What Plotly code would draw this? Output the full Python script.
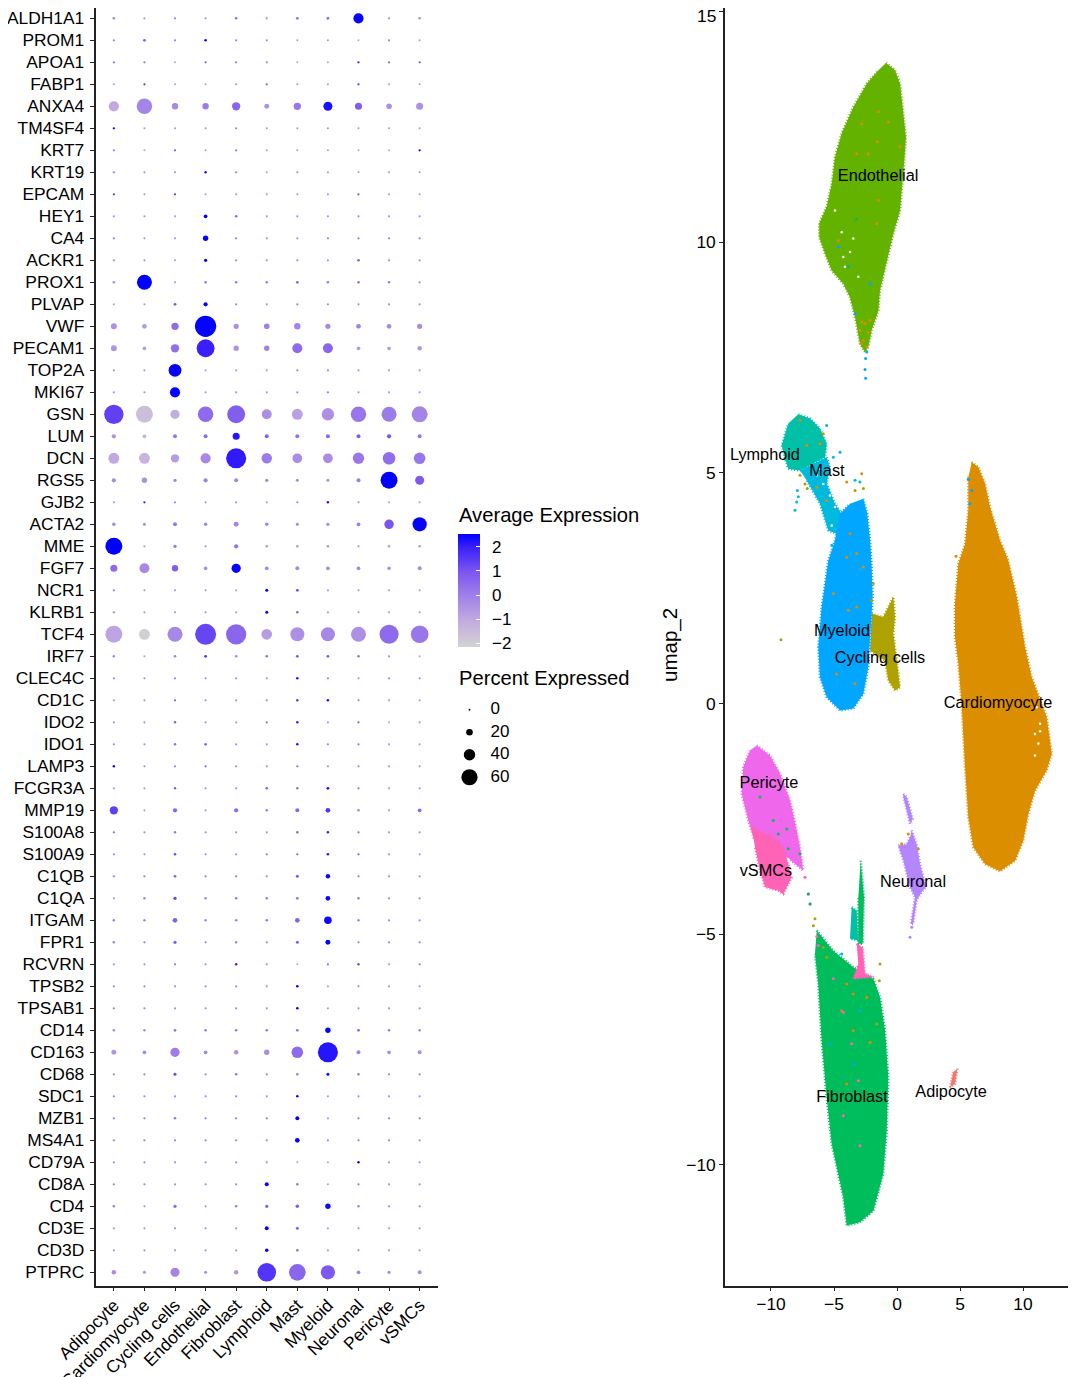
import numpy as np
import plotly.graph_objects as go

W = 1080
H = 1377
BODY_MARGIN = 8  # the page's default body margin shifts the figure

clusters = ['Adipocyte', 'Cardiomyocyte', 'Cycling cells', 'Endothelial', 'Fibroblast', 'Lymphoid',
            'Mast', 'Myeloid', 'Neuronal', 'Pericyte', 'vSMCs']
genes = ['ALDH1A1', 'PROM1', 'APOA1', 'FABP1', 'ANXA4', 'TM4SF4', 'KRT7', 'KRT19', 'EPCAM', 'HEY1',
         'CA4', 'ACKR1', 'PROX1', 'PLVAP', 'VWF', 'PECAM1', 'TOP2A', 'MKI67', 'GSN', 'LUM',
         'DCN', 'RGS5', 'GJB2', 'ACTA2', 'MME', 'FGF7', 'NCR1', 'KLRB1', 'TCF4', 'IRF7',
         'CLEC4C', 'CD1C', 'IDO2', 'IDO1', 'LAMP3', 'FCGR3A', 'MMP19', 'S100A8', 'S100A9', 'C1QB',
         'C1QA', 'ITGAM', 'FPR1', 'RCVRN', 'TPSB2', 'TPSAB1', 'CD14', 'CD163', 'CD68', 'SDC1',
         'MZB1', 'MS4A1', 'CD79A', 'CD8A', 'CD4', 'CD3E', 'CD3D', 'PTPRC']

# percent expressed, one row per gene
pct = [
    [3, 2, 2, 2, 3, 2, 4, 4, 35, 2, 3],
    [2, 4, 2, 3, 2, 2, 1, 1, 1, 2, 1],
    [2, 2, 1, 2, 2, 2, 1, 1, 2, 2, 2],
    [1, 2, 1, 1, 1, 2, 1, 1, 2, 1, 1],
    [35, 57, 19, 19, 27, 13, 23, 30, 22, 16, 22],
    [2, 1, 1, 1, 1.5, 1, 1, 1, 1, 1, 1],
    [2, 1, 2, 1, 2, 1, 1, 1, 1, 1, 2],
    [2, 1.5, 1, 2.5, 2, 1, 1.5, 1, 1, 1, 1],
    [2, 1, 2, 1, 1, 1, 1, 1, 2, 1, 1],
    [2, 1.5, 1.5, 8, 3, 1.5, 1.5, 1.5, 1.5, 1.5, 1.5],
    [2, 1.5, 1.5, 15, 2, 1.5, 1.5, 2, 2, 2, 2],
    [1.5, 1.5, 1, 6, 2, 1.5, 1.5, 1.5, 3, 1.5, 1.5],
    [3, 55, 1.5, 3, 3, 3, 4, 3, 3, 3, 2],
    [1.5, 1.5, 4, 10, 2, 1.5, 2, 1.5, 1.5, 1.5, 1.5],
    [17, 12, 23, 81, 14, 16, 19, 14, 12, 12, 14],
    [17, 8, 27, 67, 15, 15, 34, 34, 8, 8, 11],
    [2, 1.5, 46, 1.5, 1.5, 1.5, 2, 2, 1.5, 1.5, 1.5],
    [2, 1.5, 35, 1.5, 2, 1.5, 2, 2, 1.5, 1.5, 1.5],
    [73, 63, 31, 57, 67, 34, 38, 44, 57, 55, 59],
    [10, 8, 9, 9, 22, 9, 9, 9, 9, 10, 9],
    [38, 38, 27, 35, 76, 36, 33, 33, 40, 45, 41],
    [10, 15, 6, 10, 9, 6, 5, 5, 9, 63, 30],
    [1.5, 2, 2, 1.5, 2, 1.5, 2, 2.5, 1.5, 1.5, 1.5],
    [7, 5, 9, 7, 13, 7, 5, 6, 8, 32, 52],
    [63, 2, 6, 2, 10, 3, 3, 3, 2, 3, 3],
    [22, 34, 19, 8, 31, 8, 9, 8, 8, 7, 9],
    [2, 1.5, 1.5, 1.5, 1.5, 5, 4, 1.5, 1.5, 1.5, 1.5],
    [2, 1.5, 1.5, 1.5, 1.5, 5, 3, 1.5, 1.5, 1.5, 1.5],
    [63, 38, 55, 80, 77, 37, 51, 51, 55, 72, 66],
    [3, 1.5, 3, 4, 3, 3, 4, 4, 3, 2, 1.5],
    [2, 1.5, 2, 1.5, 1.5, 1.5, 3, 2, 1.5, 1.5, 1.5],
    [1.5, 1.5, 2, 1.5, 1.5, 1.5, 3, 3, 1.5, 1.5, 1.5],
    [1.5, 1.5, 2.5, 1.5, 1.5, 2, 3, 1.5, 2, 1, 1.5],
    [2, 1.5, 2.5, 3, 1.5, 1.5, 3, 2, 2, 1.5, 1.5],
    [2.5, 1.5, 2, 2, 1.5, 1.5, 2, 1.5, 1.5, 1.5, 1.5],
    [1.5, 1.5, 2.5, 1.5, 1.5, 3, 2.5, 4, 2, 1.5, 1.5],
    [27, 1.5, 10, 1.5, 10, 3, 9, 12, 3, 1.5, 8],
    [2, 1.5, 2.5, 1.5, 1.5, 1.5, 3, 3, 2, 1.5, 1.5],
    [1.5, 1.5, 3, 1.5, 1.5, 1.5, 2, 3, 2, 1.5, 1.5],
    [2, 2, 4, 2, 2, 1.5, 5, 11, 2, 1.5, 1.5],
    [1.5, 2.5, 6, 2.5, 3, 3, 4, 12, 2.5, 2, 2],
    [3, 2.5, 12, 2.5, 3, 3, 12, 24, 2.5, 2, 2],
    [3, 2, 6, 2, 2.5, 2, 5, 13, 2, 2, 2],
    [1.5, 1.5, 2, 1.5, 3, 1.5, 1, 2, 2.5, 1.5, 2],
    [2, 1.5, 1.5, 1.5, 1.5, 1.5, 3.5, 1.5, 1.5, 1.5, 1.5],
    [2, 1.5, 1.5, 1.5, 1.5, 1.5, 3.5, 1.5, 1.5, 1.5, 1.5],
    [3, 2.5, 4, 3, 3, 3, 4, 15, 4, 3, 2.5],
    [13, 8, 31, 8, 11, 15, 41, 76, 9, 8, 9],
    [2, 2, 5, 2, 3, 2, 3, 5, 2.5, 2, 2],
    [2, 1.5, 2, 1.5, 2, 1.5, 3, 1.5, 1.5, 1.5, 1.5],
    [2, 2, 3, 2, 2, 2, 9, 1.5, 2, 2, 2],
    [2, 2, 2, 2, 2, 1.5, 12, 2, 2, 1.5, 1.5],
    [1.5, 1.5, 1.5, 1.5, 1.5, 1.5, 1, 1, 2.5, 1.5, 1.5],
    [2, 1.5, 1.5, 1.5, 1.5, 9, 3, 1, 2, 1.5, 1.5],
    [3, 1.5, 6, 1.5, 3, 6, 7, 15, 2.5, 2, 2],
    [1.5, 1.5, 1.5, 1.5, 1.5, 9, 5, 1.5, 1.5, 1.5, 1.5],
    [1.5, 1.5, 1.5, 1.5, 1.5, 7, 3, 1.5, 1.5, 1.5, 1.5],
    [11, 5, 30, 5, 11, 70, 62, 52, 8, 6, 9],
]

# average expression, one row per gene
expr = [
    [0, -.5, 0, -.5, .5, -.3, .4, .6, 2.5, -.3, -.3],
    [0, .8, 0, 2.5, 0, -.3, -.5, -.5, -1, 0, -.5],
    [.3, .3, -.8, .6, 0, -.2, -.8, -.8, 2, .6, 1],
    [-.5, 1.5, -.7, -.7, -.3, .7, -.5, -.5, 1.5, -.5, -.5],
    [-1, -.1, -.2, .1, .6, -.4, .2, 2.3, .8, -.4, -.4],
    [2.5, -.5, -.3, -.3, 0, -.4, -.4, -.4, -.4, -.4, -.4],
    [0, -.8, .8, -.4, .3, -.5, -.5, -.7, -.8, -.8, 2.5],
    [0, -.3, -.2, 2.4, 0, -.5, -.3, -.4, -.5, -.4, -.4],
    [1.5, -.5, 1.4, -.4, -.3, -.4, -.3, -.3, 1, -.4, -.4],
    [-.5, -.5, -.6, 2.5, .6, -.4, -.2, -.4, 0, -.3, -.3],
    [0, -.4, -.4, 2.5, 0, -.2, -.2, 0, .3, 0, 0],
    [-.2, -.3, -.5, 2.5, -.2, -.2, -.2, -.2, 1, -.2, -.2],
    [-.2, 2.55, -.5, .2, .2, .2, .6, .2, .4, .2, -.2],
    [-.6, -.6, 1, 2.5, -.1, -.3, 0, -.2, -.2, -.1, -.3],
    [-.4, -.6, .5, 2.5, -.3, 0, -.1, -.2, 0, -.2, -.3],
    [-.5, -.7, .4, 2.0, -.4, 0, .5, .6, -.6, -.6, -.5],
    [-.5, -.5, 2.5, -.7, -.5, -.5, -.1, 0, -.4, -.4, -.4],
    [-.5, -.5, 2.5, -.7, -.5, -.5, -.1, 0, -.4, -.4, -.4],
    [1.4, -1.6, -1.1, .5, .8, -.4, -.8, -.4, .2, .1, -.1],
    [-.4, -1.2, .2, .5, 2.2, .8, .3, .6, .8, 1.0, .3],
    [-1, -1.3, -.7, -.2, 2.1, .1, -.3, -.3, .2, .4, .2],
    [-.2, -.4, -.1, 0, -.1, 0, -.3, -.3, .1, 2.55, .9],
    [-.5, 2, -.2, -.4, -.4, -.5, -.2, 2.3, -.4, -.8, -.8],
    [-.2, -.2, .2, -.1, -.1, -.1, -.2, -.2, .1, 1.0, 2.5],
    [2.55, -.7, .2, -.5, .3, -.5, -.5, -.5, -.5, -.5, -.5],
    [.5, -.2, .8, -.4, 2.5, -.1, -.2, -.2, -.2, -.3, -.2],
    [0, -.5, -.5, -.5, -.5, 2.5, 1.2, -.5, -.5, -.6, -.6],
    [0, -.5, -.5, -.5, -.5, 2.5, .8, -.5, -.5, -.6, -.6],
    [-.9, -2, -.2, 1.3, .6, -.7, -.4, -.2, -.4, .5, .2],
    [-.1, -.8, 0, 1.6, -.1, .5, 1, 1, .3, -.2, -.8],
    [-.2, -.3, 0, -.3, -.2, -.3, 2.3, 0, -.3, -.1, -.3],
    [-.4, -.4, .7, -.3, -.3, -.2, 1.5, 2.3, -.1, -.4, -.5],
    [-.3, -.4, .8, -.4, -.4, .5, 2, -.3, .8, -.7, -.4],
    [-.2, -.4, .5, 1, -.2, -.5, 2.3, -.2, .2, -.4, -.5],
    [2.4, -.3, 0, .5, -.2, -.2, .5, -.4, 0, -.4, -.4],
    [-.5, -.5, .9, -.3, -.3, 1, .6, 2.3, .3, -.4, -.4],
    [1.4, -.6, .7, -.5, .5, .2, .6, 1.6, 0, -.3, .6],
    [.4, -.3, .3, -.3, -.2, -.2, .6, 2, .5, -.3, -.3],
    [-.2, -.4, 1.3, -.3, -.2, .2, .7, 2.2, .8, -.3, -.4],
    [0, 0, .7, .1, .1, -.2, .9, 2.5, .1, -.2, -.2],
    [-.5, 0, 1.3, 0, .2, .1, .3, 2.5, .3, -.1, -.1],
    [.1, 0, .8, -.1, 0, .3, .7, 2.4, 0, -.1, -.1],
    [0, 0, .8, -.1, 0, -.1, .8, 2.5, 0, -.1, -.1],
    [-.3, -.3, .2, -.3, 2, -.2, -.8, .5, 1.2, -.3, 0],
    [0, -.1, -.2, -.2, -.1, -.2, 2.5, -.6, -.2, -.2, -.2],
    [0, -.1, -.2, -.2, -.1, -.2, 2.5, -.6, -.2, -.2, -.2],
    [-.1, -.1, .3, .2, .3, .3, .3, 2.5, .7, .3, .1],
    [-.5, -.2, .1, -.2, -.4, -.3, .5, 2.2, -.1, -.3, -.3],
    [-.1, -.1, 1.3, -.1, .4, 0, .2, 2.4, .3, 0, 0],
    [0, -.1, -.1, -.2, 0, -.2, 2.5, -.6, -.1, -.2, -.2],
    [0, 0, .3, .1, 0, .1, 2.55, -.5, .1, .1, .1],
    [0, 0, 0, 0, 0, -.1, 2.55, -.1, 0, -.1, -.1],
    [-.1, -.1, -.2, -.2, -.1, -.2, -.7, -.7, 2.5, -.2, -.2],
    [0, -.1, -.2, -.2, -.1, 2.5, .3, -.6, .2, -.2, -.2],
    [.1, -.4, .6, -.4, .1, .8, .8, 2.4, .1, -.2, -.2],
    [-.3, -.3, -.3, -.3, -.3, 2.5, .7, -.5, -.2, -.3, -.3],
    [-.3, -.3, -.3, -.3, -.3, 2.5, .5, -.5, -.2, -.3, -.3],
    [-.3, -.4, -.1, -.3, -.5, 1.6, .6, .9, -.1, -.3, -.3],
]

legend_pct = [0, 20, 40, 60]
colorbar_ticks = [-2, -1, 0, 1, 2]
umap_y_ticks = [-10, -5, 0, 5, 10, 15]
# the 15 label would be cut by the top of the figure, it gets an annotation instead
umap_y_labels = ['\u221210', '\u22125', '0', '5', '10', '']

# umap cluster outlines
endothelial_x = [-.87, -.16, .24, .45, .71, .56, .37, .24, -.29, -.77, -1.35, -1.48, -2.01, -2.28, -2.54, -2.94, -3.33,
                 -3.73, -4.26, -5.18, -5.71, -6.17, -6.17, -5.58, -5.18, -4.92, -4.39, -3.47, -2.40, -1.48]
endothelial_y = [13.89, 13.73, 13.44, 12.93, 12.28, 11.71, 11.13, 10.69, 10.19, 9.61, 8.96, 8.52, 8.09, 7.73, 7.62, 7.80,
                 8.38, 8.81, 9.10, 9.39, 9.75, 10.11, 10.41, 10.77, 11.27, 11.85, 12.36, 12.93, 13.44, 13.73]
cardio_x = [5.93, 6.45, 6.98, 7.38, 8.17, 8.83, 9.50, 10.16, 10.69, 11.35, 11.88, 12.28, 11.88, 10.95, 10.42, 10.02, 9.37,
            8.17, 6.98, 6.06, 5.66, 5.40, 5.13, 4.87, 4.60, 4.60, 4.87, 5.40, 5.66, 5.66]
cardio_y = [5.23, 5.13, 4.77, 4.26, 3.54, 3.10, 2.31, 1.22, .57, .07, -.30, -1.09, -1.45, -1.89, -2.39, -2.97, -3.41,
            -3.64, -3.48, -3.12, -2.47, -1.38, -.01, .86, 1.44, 2.16, 3.03, 3.46, 4.19, 4.91]
myeloid_x = [-2.67, -2.36, -2.14, -2.01, -1.93, -2.14, -2.28, -2.67, -3.47, -4.52, -5.58, -6.11, -6.25, -5.98, -5.45,
             -4.92, -4.52, -3.73]
myeloid_y = [4.44, 4.11, 3.54, 2.96, 2.31, 1.51, .79, .21, -.11, -.15, .14, .57, 1.22, 2.09, 3.10, 3.54, 4.11, 4.33]
lymphoid_x = [-7.83, -6.90, -6.11, -5.58, -5.71, -6.64, -7.70, -8.63, -8.89, -9.15, -8.63]
lymphoid_y = [6.27, 6.18, 5.96, 5.63, 5.34, 5.20, 5.05, 5.09, 5.31, 5.60, 6.07]
mast_x = [-7.70, -5.58, -5.32, -5.58, -4.92, -4.39, -4.79, -5.45, -6.11, -7.17]
mast_y = [5.05, 5.34, 5.13, 4.77, 4.33, 4.11, 3.68, 3.75, 4.33, 4.84]
cycling_x = [-2.01, -1.09, -.69, -.29, -.16, -.29, -.02, .24, -.16, -.69, -.95, -2.14]
cycling_y = [1.95, 1.87, 2.09, 2.31, 1.87, 1.51, .93, .35, .28, .50, .93, 1.15]
pericyte_x = [-11.13, -10.08, -9.29, -8.49, -7.96, -7.70, -7.44, -8.75, -10.08, -11.40, -11.80, -12.33, -12.20, -11.67]
pericyte_y = [-.91, -1.13, -1.52, -2.10, -2.75, -3.12, -3.62, -3.33, -2.97, -2.90, -2.54, -1.96, -1.38, -1.02]
vsmc_x = [-11.53, -9.42, -8.89, -8.36, -9.02, -9.42, -10.48, -10.87, -11.27]
vsmc_y = [-2.68, -2.97, -3.22, -3.77, -4.13, -4.06, -3.98, -3.62, -3.12]
fibro_x = [-6.37, -5.06, -3.47, -1.88, -1.35, -.95, -.69, -.82, -1.09, -1.88, -2.94, -3.99, -4.26, -5.18, -5.58, -5.98,
           -6.25, -6.51]
fibro_y = [-4.92, -5.36, -5.72, -5.97, -6.37, -7.09, -8.11, -9.26, -10.20, -11.00, -11.25, -11.32, -10.71, -9.55, -8.54,
           -7.31, -6.08, -5.43]
fibro_spike_x = [-2.88, -2.62, -2.72, -3.07, -3.07]
fibro_spike_y = [-3.41, -4.20, -5.21, -5.21, -4.20]
spike_teal_x = [-3.60, -3.20, -3.07, -3.73]
spike_teal_y = [-4.42, -4.49, -5.14, -5.10]
spike_pink_x = [-3.20, -2.72, -2.54, -1.88, -3.47, -3.07]
spike_pink_y = [-5.21, -5.29, -5.86, -5.93, -5.97, -5.65]
neuronal_top_x = [.50, .77, 1.25, 1.03, .71, .50]
neuronal_top_y = [-1.96, -2.03, -2.50, -2.61, -2.25, -2.03]
neuronal_x = [1.17, 1.56, 1.83, 2.30, 1.96, 1.56, 1.29, 1.09, 1.43, 1.03, .50, .10, .77, 1.03]
neuronal_y = [-2.75, -3.05, -3.48, -3.98, -4.09, -4.27, -4.78, -4.78, -4.20, -3.98, -3.40, -3.08, -3.05, -2.90]
adipocyte_x = [4.79, 4.60, 4.21, 4.47]
adipocyte_y = [-7.92, -8.25, -8.32, -7.99]

# stray cells lying away from their own cluster
orange_x = [-1.48, -2.80, -.69, -1.56, -3.20, -2.28, .24, -1.48, -4.66, -1.61, -2.80, -2.54, -2.94, -2.67, -2.80, -2.40,
            -2.28, -2.14, -3.73, -3.20, -3.99, -2.67, -5.05, -3.86, -3.20, -4.79, -3.33, -7.70, -7.17, -6.11, -5.85,
            -5.58, -6.37, -3.99, -2.80, 4.68, .37, 1.69, .90, -3.99, -3.47, -2.40, -4.39, -3.47, -2.14, -3.99]
orange_y = [12.83, 12.57, 12.61, 12.18, 11.92, 11.92, 12.07, 10.91, 10.04, 10.40, 8.27, 8.24, 8.09, 7.87, 7.80, 7.73,
            8.05, 8.31, 3.68, 3.25, 3.17, 2.96, 2.38, 2.02, 2.09, .64, .43, 6.14, 5.60, 5.63, 5.85, 4.40, 4.69, 4.80,
            4.98, 3.19, -3.04, -3.15, -2.83, -6.08, -6.30, -6.37, -6.66, -7.09, -7.35, -8.25]
blue_x = [-4.66, -3.86, -2.14, -3.33, -2.40, -2.49, -2.54, -2.49, 5.66, 5.93, 5.79, -2.94, -3.33, -5.32, -4.39]
blue_y = [9.90, 9.47, 9.10, 8.45, 7.62, 7.48, 7.24, 7.05, 4.86, 4.62, 4.33, -6.66, -7.82, -7.38, -5.43]
olive_x = [-7.70, -7.30, -7.12, -9.21, -3.33, -2.67, -1.88, -2.01, -5.85, -5.58, -1.35, -1.40, -6.64, -1.61, -2.14, -6.51]
olive_y = [4.95, 4.76, 4.66, 1.38, 4.62, 4.66, 2.60, 2.23, -5.29, -5.50, -5.65, -6.01, -4.82, -6.95, -7.35, -4.67]
cyan_x = [-5.05, -4.52, -2.94, -3.33, -5.18, -5.58, -8.10, -7.91, -7.83, -7.96]
cyan_y = [5.34, 5.45, 4.80, 4.84, 3.43, 6.03, 4.19, 4.62, 4.48, 4.37]
pink_x = [-7.30, -7.04, -6.90, -5.05, -4.26, -3.07, -3.60, -2.94, -4.26, -6.37, -6.25]
pink_y = [-3.77, -4.13, -4.35, -5.97, -6.70, -8.18, -7.38, -9.59, -8.94, -5.05, -5.25]
green_x = [-8.75, -9.82, -8.63, -10.87, -9.42, -7.70, -7.04, -6.90, -3.86, -3.20]
green_y = [-2.72, -2.54, -3.15, -2.03, -2.83, -3.26, -4.13, -4.35, 9.47, 10.5]
lilac_x = [1.03, 1.17]
lilac_y = [-5.07, -4.85]
# gaps inside the sparser parts of the clusters
gap_x = [11.08, 11.35, 10.95, 11.22, 10.95, 11.35, -4.26, -3.73, -4.13, -3.07, -4.39, -4.92, -3.47,
         -6.37, -5.85, -5.32, -4.92, -6.11, -5.18, -8.36, -8.63, -8.10]
gap_y = [-.08, -.44, -.66, -.87, -1.13, -.60, 9.68, 9.79, 9.47, 9.25, 10.22, 10.69, 10.08,
         4.95, 4.76, 4.51, 4.26, 5.09, 3.86, -3.69, -3.37, -3.59]

label_names = ['Endothelial', 'Lymphoid', 'Mast', 'Myeloid', 'Cycling cells', 'Cardiomyocyte', 'Pericyte', 'vSMCs',
               'Neuronal', 'Fibroblast', 'Adipocyte']
label_x = [-1.5, -10.48, -5.56, -4.37, -1.35, 8.02, -10.16, -10.4, 1.27, -3.57, 4.29]
label_y = [11.41, 5.36, 5.03, 1.55, .97, 0, -1.74, -3.66, -3.90, -8.56, -8.45]

FONT = 'Liberation Sans'
colorscale = [[0, '#D3D3D3'], [0.241, '#C0A9E0'], [0.455, '#A080E8'], [0.669, '#7B55F0'], [0.883, '#3A20FA'], [1, '#0000FF']]
CMIN, CMAX = -2.13, 2.55


def pxx(x):
    return (x - BODY_MARGIN) / W


def pxy(y):
    return 1 - (y - BODY_MARGIN) / H


def dot_size(p):
    return 1.8 + 0.24 * np.asarray(p, dtype=float)


fig = go.Figure()

# Dot plot
xx, yy = np.meshgrid(np.arange(len(clusters)), np.arange(len(genes)))
fig.add_trace(go.Scatter(
    x=xx.ravel(), y=yy.ravel(), mode='markers', xaxis='x', yaxis='y', showlegend=False,
    marker=dict(
        size=dot_size(pct).ravel(), color=np.array(expr).ravel(), cmin=CMIN, cmax=CMAX, opacity=1,
        colorscale=colorscale, line=dict(width=0),
        colorbar=dict(
            x=pxx(458.3), xanchor='left', xref='paper', y=pxy(590), yanchor='middle', yref='paper',
            lenmode='pixels', len=113.4, thickness=22.4, xpad=0, ypad=0, outlinewidth=0,
            ticks='inside', ticklen=4, tickcolor='white', tickwidth=1,
            tickvals=colorbar_ticks,
            ticktext=['\u00a0\u2009\u2212' + str(-t) if t < 0 else '\u00a0\u2009' + str(t) for t in colorbar_ticks],
            tickfont=dict(family=FONT, size=17, color='black'),
        ),
    ),
))

# Umap clusters, dotted edge so the border looks like separate cells
outlines = [
    (endothelial_x, endothelial_y, '#64B200'), (cardio_x, cardio_y, '#DB8E00'),
    (lymphoid_x, lymphoid_y, '#00C1A7'), (mast_x, mast_y, '#00BADE'),
    (cycling_x, cycling_y, '#AEA200'), (myeloid_x, myeloid_y, '#00A6FF'),
    (pericyte_x, pericyte_y, '#EF67EB'), (vsmc_x, vsmc_y, '#FF63B6'),
    (fibro_x, fibro_y, '#00BD5C'), (fibro_spike_x, fibro_spike_y, '#00BD5C'),
    (spike_teal_x, spike_teal_y, '#00C1A7'), (spike_pink_x, spike_pink_y, '#FF63B6'),
    (neuronal_top_x, neuronal_top_y, '#B385FF'), (neuronal_x, neuronal_y, '#B385FF'),
    (adipocyte_x, adipocyte_y, '#F8766D'),
]
for ox, oy, col in outlines:
    fig.add_trace(go.Scatter(x=ox, y=oy, mode='lines', fill='toself', fillcolor=col,
                             line=dict(color=col, width=2.5, dash='1px,2px'),
                             xaxis='x2', yaxis='y2', showlegend=False))

fig.add_trace(go.Scatter(x=gap_x, y=gap_y, mode='markers', marker=dict(size=2.5, color='white', opacity=1, line=dict(width=0)),
                         xaxis='x2', yaxis='y2', showlegend=False))

strays = [(orange_x, orange_y, '#DB8E00'), (blue_x, blue_y, '#00A6FF'), (olive_x, olive_y, '#AEA200'),
          (cyan_x, cyan_y, '#00BADE'), (pink_x, pink_y, '#FF63B6'), (green_x, green_y, '#00BD5C'),
          (lilac_x, lilac_y, '#B385FF')]
for sx, sy, col in strays:
    fig.add_trace(go.Scatter(x=sx, y=sy, mode='markers', marker=dict(size=3, color=col, line=dict(width=0)),
                             xaxis='x2', yaxis='y2', showlegend=False))

fig.add_trace(go.Scatter(x=label_x, y=label_y, mode='text', text=label_names, textposition='middle center',
                         textfont=dict(family=FONT, size=16.3, color='black'),
                         xaxis='x2', yaxis='y2', showlegend=False))

# Percent Expressed legend, drawn on its own small axes
fig.add_trace(go.Scatter(x=[0] * len(legend_pct), y=list(range(len(legend_pct))), mode='markers',
                         marker=dict(size=dot_size(legend_pct), color='black', opacity=1, line=dict(width=0)),
                         xaxis='x3', yaxis='y3', showlegend=False))
fig.add_trace(go.Scatter(x=[21] * len(legend_pct), y=list(range(len(legend_pct))), mode='text',
                         text=[str(p) for p in legend_pct], textposition='middle right',
                         textfont=dict(family=FONT, size=17, color='black'),
                         xaxis='x3', yaxis='y3', showlegend=False))

axis_style = dict(showgrid=False, zeroline=False, showline=True, linecolor='#222222', linewidth=1.5,
                  ticks='outside', ticklen=4, tickwidth=1.2, tickcolor='#222222',
                  tickfont=dict(family=FONT, size=17.4, color='black'))

# the axes start at the very top of the figure, which is 8px down the page
fig.update_layout(
    width=W, height=H, margin=dict(l=0, r=0, t=0, b=0, autoexpand=False), paper_bgcolor='white', plot_bgcolor='white',
    showlegend=False,
    xaxis=dict(domain=[pxx(95.5), pxx(438)], range=[-0.6, 10.6], tickvals=list(range(len(clusters))), ticktext=clusters,
               tickangle=-45, anchor='y', ticklabelstandoff=-3, **axis_style),
    yaxis=dict(domain=[pxy(1285.5), 1], range=[57.6, -0.468], tickvals=list(range(len(genes))), ticktext=genes,
               anchor='x', ticklabelstandoff=2, **axis_style),
    xaxis2=dict(domain=[pxx(725), pxx(1068)], range=[-13.65, 13.57], tickvals=[-10, -5, 0, 5, 10], anchor='y2',
                ticklabelstandoff=-2, **axis_style),
    yaxis2=dict(domain=[pxy(1285.5), 1], range=[-12.62, 15.08], tickvals=umap_y_ticks, ticktext=umap_y_labels, anchor='x2',
                **axis_style),
    xaxis3=dict(domain=[pxx(458), pxx(640)], range=[-11.5, 170.5], visible=False, anchor='y3'),
    yaxis3=dict(domain=[pxy(788.5), pxy(698.5)], range=[3.5, -0.5], visible=False, anchor='x3'),
    annotations=[
        dict(text='15', x=pxx(717.5), y=pxy(16), xref='paper', yref='paper', xanchor='right', yanchor='middle',
             showarrow=False, font=dict(family=FONT, size=17.4, color='black')),
        dict(text='Average Expression', x=pxx(456.5), y=pxy(515), xref='paper', yref='paper', xanchor='left', yanchor='middle',
             showarrow=False, font=dict(family=FONT, size=20.2, color='black')),
        dict(text='Percent Expressed', x=pxx(456.5), y=pxy(678), xref='paper', yref='paper', xanchor='left', yanchor='middle',
             showarrow=False, font=dict(family=FONT, size=20.2, color='black')),
        dict(text='umap_2', x=pxx(670), y=pxy(645), xref='paper', yref='paper', textangle=-90, xanchor='center', yanchor='middle',
             showarrow=False, font=dict(family=FONT, size=20.5, color='black')),
    ],
)

# left-hand white ticks on the colour bar
for t in colorbar_ticks:
    ty = 533.3 + (CMAX - t) / (CMAX - CMIN) * 113.4
    fig.add_shape(type='line', xref='paper', yref='paper', x0=pxx(458.3), x1=pxx(462.8), y0=pxy(ty), y1=pxy(ty),
                  line=dict(color='white', width=1))

fig.write_html("out.html")
